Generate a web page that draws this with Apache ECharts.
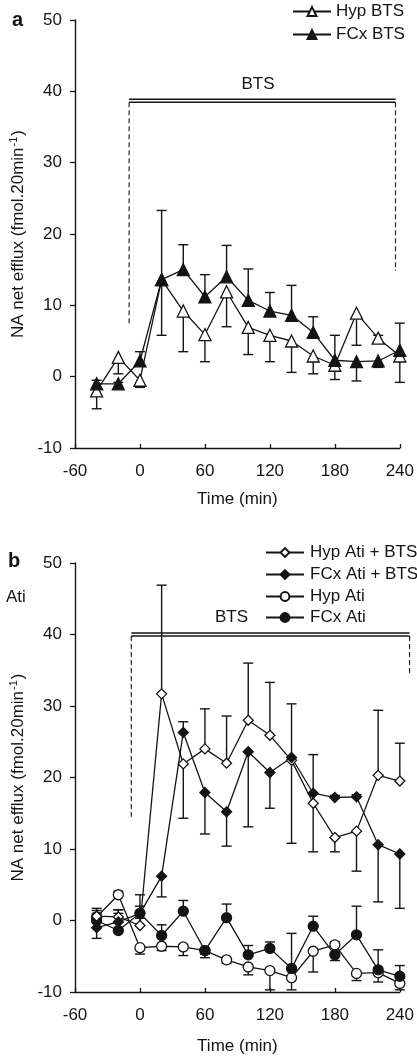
<!DOCTYPE html>
<html>
<head>
<meta charset="utf-8">
<script src="https://cdn.jsdelivr.net/npm/echarts@6/dist/echarts.min.js"></script>
<style>
html,body{margin:0;padding:0;background:#fff;}
#chart{width:417px;height:1056px;}
</style>
</head>
<body>
<div id="chart"></div>
<script>
// ---- data ----
const time = [-40, -20, 0, 20, 40, 60, 80, 100, 120, 140, 160, 180, 200, 220, 240];
const xTicks = [-60, 0, 60, 120, 180, 240];
const yTicks = [-10, 0, 10, 20, 30, 40, 50];

// panel a (signed error bar: + drawn upward, - drawn downward)
const hypBTS    = [-2.0, 2.7, -0.5, 13.6, 9.2, 5.9, 11.9, 6.9, 5.8, 5.0, 2.9, 1.6, 8.9, 5.4, 2.9];
const hypBTSErr = [-2.5, -2.3, -1.0, -7.8, -5.7, -3.8, -4.9, -3.8, -3.7, -4.4, -2.5, -2.0, -4.5, 0.4, -3.7];
const fcxBTS    = [-1.0, -1.0, 2.2, 13.6, 15.0, 11.2, 14.0, 10.7, 9.2, 8.6, 6.2, 2.3, 2.1, 2.2, 3.7];
const fcxBTSErr = [0.5, 0.2, 1.3, 9.7, 3.5, 3.1, 4.4, 4.4, 2.6, 4.2, 2.2, 3.5, -2.7, -0.9, 3.8];

// panel b
const hypAtiBTS    = [0.6, 0.5, -0.7, 31.7, 21.9, 24.0, 22.0, 28.0, 25.9, 22.4, 16.4, 11.6, 12.5, 20.3, 19.5];
const hypAtiBTSErr = [0.8, 1.0, 1.0, 15.2, -7.6, 5.6, 6.6, 8.0, 7.4, -11.6, 6.8, -2.0, -5.6, 9.1, 5.3];
const fcxAtiBTS    = [-1.0, -0.2, 1.0, 6.2, 26.3, 17.9, 15.2, 23.6, 20.7, 22.8, 17.8, 17.2, 17.3, 10.6, 9.3];
const fcxAtiBTSErr = [-1.5, 1.2, 1.0, -2.9, 1.5, -5.8, -4.8, -10.5, -5.0, 7.5, -8.2, 0.3, 0.3, -8.0, -7.6];
const hypAti    = [0.5, 3.6, -3.8, -3.6, -3.7, -4.2, -5.5, -6.5, -7.0, -8.0, -4.3, -3.4, -7.4, -7.3, -8.8];
const hypAtiErr = [0.5, 0.5, -0.9, -0.6, -1.2, -0.5, -0.5, -1.1, -2.7, -1.7, -2.9, 0.4, -1.0, -1.3, -0.9];
const fcxAti    = [0.0, -1.4, 1.0, -2.1, 1.3, -4.2, 0.4, -4.8, -3.9, -6.7, -0.8, -4.8, -2.0, -6.9, -7.8];
const fcxAtiErr = [1.7, 2.9, 2.6, 1.5, 1.5, -1.0, 1.9, 1.3, 0.9, 4.9, 1.4, -0.8, 4.0, 2.8, 1.5];

// BTS treatment brackets (time in min, level in fmol)
const bracketA = { start: -10, end: 236, level: 38.9, leftEnd: 7.1, rightEnd: 14.8, labelT: 109, labelV: 41.0, label: 'BTS' };
const bracketB = { start: -8, end: 249, level: 40.2, leftEnd: 14.5, rightEnd: 34.3, labelT: 84.6, labelV: 42.4, label: 'BTS' };

// ---- rendering ----
const INK = '#141414';
const FONT = '"Liberation Sans", Arial, Helvetica, sans-serif';
const FS = 17;

function pairs(vals) { return time.map((t, i) => [t, vals[i]]); }
function triples(vals, errs) { return time.map((t, i) => [t, vals[i], errs[i]]); }

function errRender(params, api) {
  const t = api.value(0), v = api.value(1), e = api.value(2);
  const p0 = api.coord([t, v]);
  const p1 = api.coord([t, v + e]);
  const hw = 5;
  return {
    type: 'group',
    children: [
      { type: 'line', shape: { x1: p0[0], y1: p0[1], x2: p1[0], y2: p1[1] }, style: { stroke: INK, lineWidth: 1.4 } },
      { type: 'line', shape: { x1: p1[0] - hw, y1: p1[1], x2: p1[0] + hw, y2: p1[1] }, style: { stroke: INK, lineWidth: 1.4 } }
    ]
  };
}

function bracketRender(b) {
  return function (params, api) {
    const pL = api.coord([b.start, b.level]);
    const pR = api.coord([b.end, b.level]);
    const pLe = api.coord([b.start, b.leftEnd]);
    const pRe = api.coord([b.end, b.rightEnd]);
    const pT = api.coord([b.labelT, b.labelV]);
    const solid = { stroke: INK, lineWidth: 1.4 };
    const dash = { stroke: '#222', lineWidth: 1.2, lineDash: [5, 3] };
    return {
      type: 'group',
      children: [
        { type: 'line', shape: { x1: pL[0], y1: pL[1], x2: pR[0], y2: pR[1] }, style: solid },
        { type: 'line', shape: { x1: pL[0], y1: pL[1] + 3, x2: pR[0], y2: pR[1] + 3 }, style: solid },
        { type: 'line', shape: { x1: pL[0], y1: pL[1] + 3, x2: pLe[0], y2: pLe[1] }, style: dash },
        { type: 'line', shape: { x1: pR[0], y1: pR[1] + 3, x2: pRe[0], y2: pRe[1] }, style: dash },
        { type: 'text', x: pT[0], y: pT[1], style: { text: b.label, fill: INK, fontSize: FS, fontFamily: FONT, align: 'center', verticalAlign: 'middle' } }
      ]
    };
  };
}

function errSeries(idx, vals, errs) {
  return {
    type: 'custom', xAxisIndex: idx, yAxisIndex: idx, z: 1, silent: true,
    renderItem: errRender, encode: { x: 0, y: 1 }, data: triples(vals, errs)
  };
}
function bracketSeries(idx, b) {
  return {
    type: 'custom', xAxisIndex: idx, yAxisIndex: idx, z: 1, silent: true,
    renderItem: bracketRender(b), encode: { x: 0, y: 1 }, data: [[b.start, b.level]]
  };
}
function lineSeries(idx, name, vals, symbol, size, filled) {
  return {
    type: 'line', name: name, xAxisIndex: idx, yAxisIndex: idx, z: 3,
    data: pairs(vals), symbol: symbol, symbolSize: size, showAllSymbol: true,
    lineStyle: { color: INK, width: 1.3 },
    itemStyle: { color: filled ? INK : '#fff', borderColor: INK, borderWidth: 1.3, opacity: 1 },
    emphasis: { disabled: true }
  };
}

const yName = '{a|NA net efflux (fmol.20min}{s|-1}{a|)}';
const yNameStyle = {
  color: INK, fontFamily: FONT, fontSize: FS,
  rich: {
    a: { fontSize: FS, fontFamily: FONT, color: INK, lineHeight: 20 },
    s: { fontSize: 11, fontFamily: FONT, color: INK, lineHeight: 20, verticalAlign: 'top', padding: [0, 1, 0, 1] }
  }
};

function xAxis(idx, gap) {
  return {
    type: 'value', gridIndex: idx, min: xTicks[0], max: xTicks[xTicks.length - 1], interval: 60,
    name: 'Time (min)', nameLocation: 'middle', nameGap: gap,
    nameTextStyle: { color: INK, fontFamily: FONT, fontSize: FS },
    axisLine: { show: true, onZero: false, lineStyle: { color: INK, width: 1.4 } },
    axisTick: { show: true, inside: true, length: 4, lineStyle: { color: INK, width: 1.3 } },
    axisLabel: { color: INK, fontFamily: FONT, fontSize: FS, margin: 15 },
    splitLine: { show: false }
  };
}
function yAxis(idx) {
  return {
    type: 'value', gridIndex: idx, min: yTicks[0], max: yTicks[yTicks.length - 1], interval: 10,
    name: yName, nameLocation: 'middle', nameGap: 47, nameRotate: 90,
    nameTextStyle: yNameStyle,
    axisLine: { show: true, onZero: false, lineStyle: { color: INK, width: 1.4 } },
    axisTick: { show: true, inside: false, length: 5, lineStyle: { color: INK, width: 1.3 } },
    axisLabel: { color: INK, fontFamily: FONT, fontSize: FS, margin: 13 },
    splitLine: { show: false }
  };
}

function legendItem(name, left, top, gap) {
  return {
    data: [name], left: left, top: top, padding: 0, itemGap: 0, itemWidth: 38, itemHeight: 11,
    textStyle: { color: INK, fontFamily: FONT, fontSize: FS, padding: [0, 0, 0, gap - 5] },
    selectedMode: false, inactiveColor: INK
  };
}

const chart = echarts.init(document.getElementById('chart'), null, { renderer: 'canvas' });
chart.setOption({
  animation: false,
  backgroundColor: '#fff',
  grid: [
    { left: 74, top: 20, width: 326, height: 428 },
    { left: 74, top: 563, width: 327, height: 430 }
  ],
  xAxis: [xAxis(0, 43), xAxis(1, 46)],
  yAxis: [yAxis(0), yAxis(1)],
  legend: [
    legendItem('Hyp BTS', 292, 3, 5),
    legendItem('FCx BTS', 292, 26, 5),
    legendItem('Hyp Ati + BTS', 265, 544, 6),
    legendItem('FCx Ati + BTS', 265, 566, 6),
    legendItem('Hyp Ati', 265, 588, 6),
    legendItem('FCx Ati', 265, 609, 6)
  ],
  graphic: [
    { type: 'text', left: 12, top: 10, style: { text: 'a', fontSize: 20, fontWeight: 'bold', fontFamily: FONT, fill: INK } },
    { type: 'text', left: 8, top: 551, style: { text: 'b', fontSize: 20, fontWeight: 'bold', fontFamily: FONT, fill: INK } },
    { type: 'text', left: 6, top: 589, style: { text: 'Ati', fontSize: FS, fontFamily: FONT, fill: INK } }
  ],
  series: [
    bracketSeries(0, bracketA),
    errSeries(0, hypBTS, hypBTSErr),
    errSeries(0, fcxBTS, fcxBTSErr),
    lineSeries(0, 'Hyp BTS', hypBTS, 'triangle', 12, false),
    lineSeries(0, 'FCx BTS', fcxBTS, 'triangle', 12, true),

    bracketSeries(1, bracketB),
    errSeries(1, hypAtiBTS, hypAtiBTSErr),
    errSeries(1, fcxAtiBTS, fcxAtiBTSErr),
    errSeries(1, hypAti, hypAtiErr),
    errSeries(1, fcxAti, fcxAtiErr),
    lineSeries(1, 'Hyp Ati', hypAti, 'circle', 10, false),
    lineSeries(1, 'FCx Ati', fcxAti, 'circle', 10, true),
    lineSeries(1, 'Hyp Ati + BTS', hypAtiBTS, 'diamond', 10, false),
    lineSeries(1, 'FCx Ati + BTS', fcxAtiBTS, 'diamond', 10, true)
  ]
});
</script>
</body>
</html>
